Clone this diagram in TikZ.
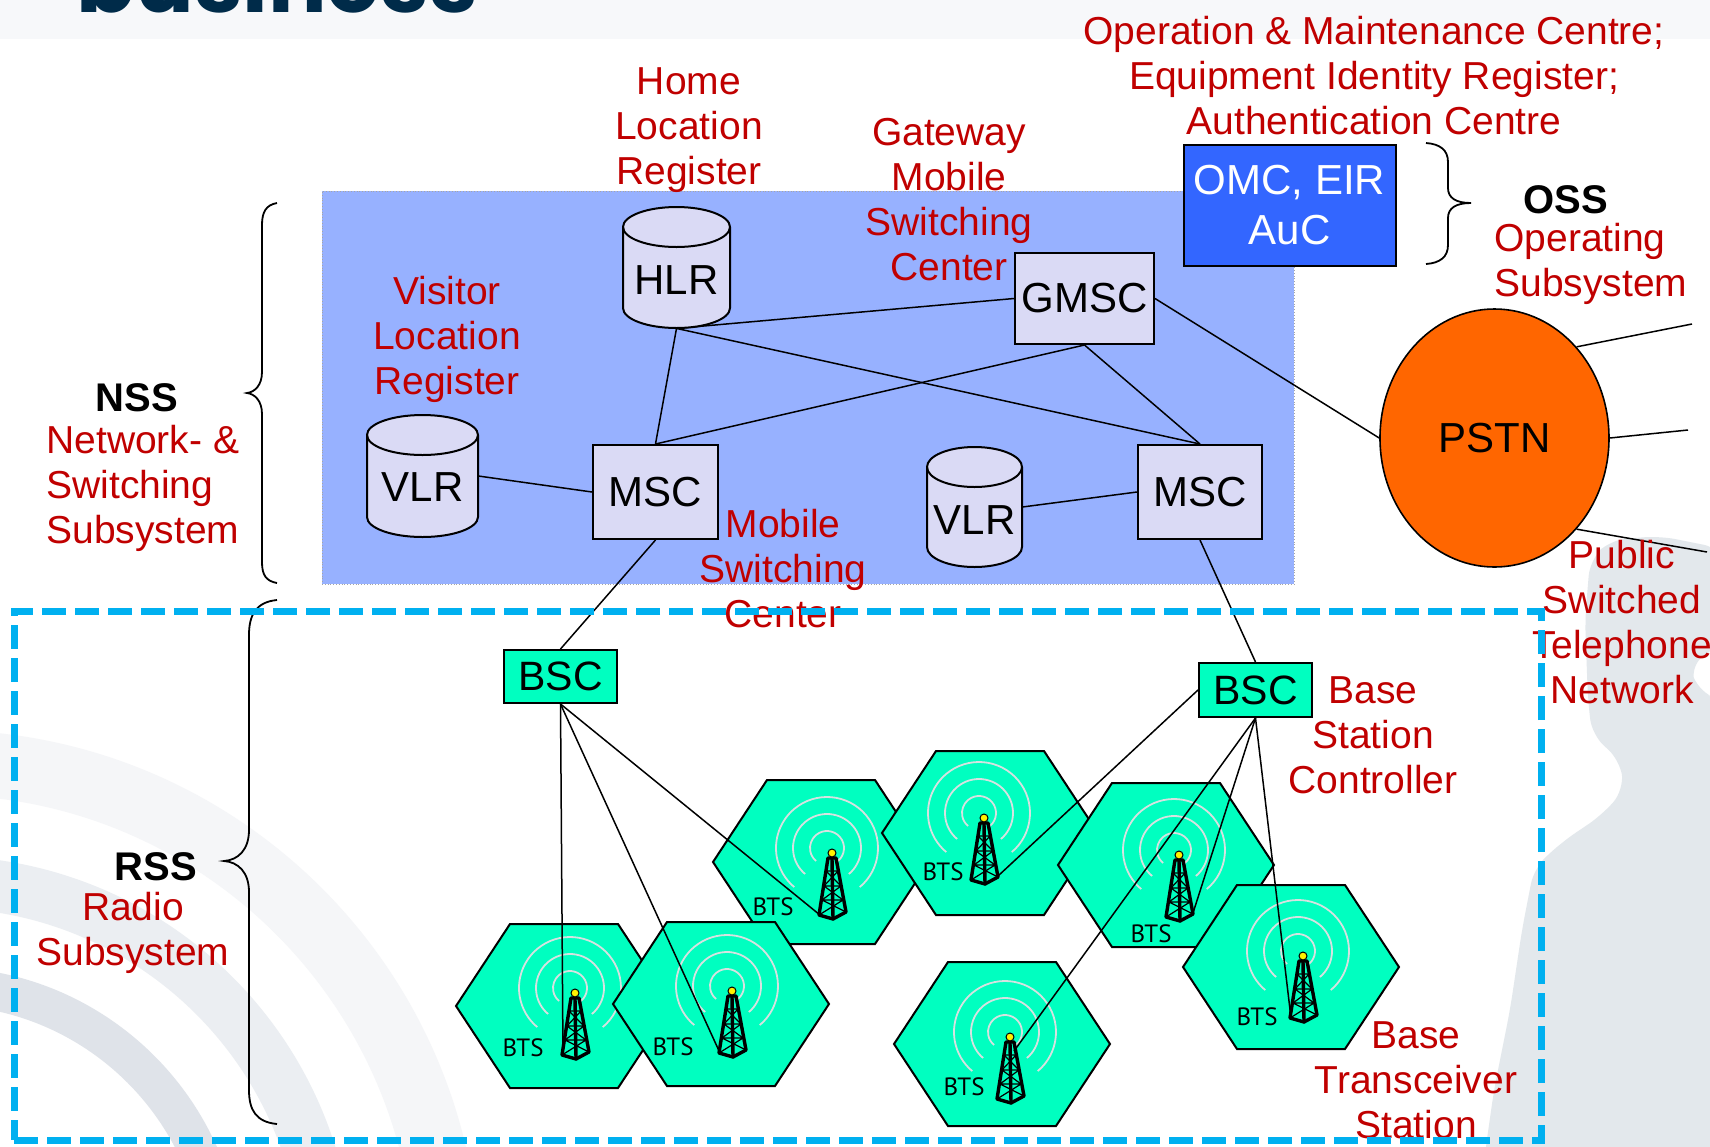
\documentclass[tikz,border=0pt]{standalone}
\usepackage{fontspec}
\setmainfont{Liberation Sans}
\newfontfamily\notefont{Liberation Sans}
\newfontfamily\cellfont{PT Sans}
\newfontfamily\brandfont{Poppins}
\usetikzlibrary{shapes.geometric}
\pgfdeclarelayer{back}
\pgfdeclarelayer{links}
\pgfdeclarelayer{front}
\pgfsetlayers{back,links,main,front}

\definecolor{nssblue}{RGB}{151,177,255}
\definecolor{boxfill}{RGB}{218,218,245}
\definecolor{omcblue}{RGB}{51,102,255}
\definecolor{pstnorange}{RGB}{255,102,0}
\definecolor{aqua}{RGB}{0,255,192}
\definecolor{notered}{RGB}{192,0,0}
\definecolor{rssdash}{RGB}{0,176,240}
\definecolor{wave}{RGB}{214,226,224}
\definecolor{navy}{RGB}{0,43,73}
\definecolor{topband}{RGB}{247,248,250}
\definecolor{markA}{RGB}{245,246,248}
\definecolor{markB}{RGB}{235,238,242}
\definecolor{markC}{RGB}{223,227,233}
\definecolor{figuregrey}{RGB}{227,232,236}

\tikzset{
  unitbox/.style={draw, line width=1pt, fill=boxfill, inner sep=0pt,
    font=\fontsize{21}{25}\selectfont},
  ctrlbox/.style={draw, line width=1pt, fill=aqua, inner sep=0pt,
    font=\fontsize{20.5}{25}\selectfont},
  note/.style={text=notered, align=center, inner sep=0pt,
    font=\notefont\fontsize{19.5}{22.5}\selectfont},
  subsys/.style={inner sep=0pt, font=\bfseries\fontsize{20}{24}\selectfont},
  link/.style={line width=0.75pt},
  bracepath/.style={line width=0.9pt},
  hexcell/.style={draw, line width=1pt, fill=aqua, line join=miter},
  radiowave/.style={draw=wave, line width=0.9pt},
  mastleg/.style={line width=1.7pt, line join=round, line cap=round},
  mastbar/.style={line width=0.6pt},
  celltext/.style={inner sep=0pt, font=\cellfont\fontsize{12.5}{14}\selectfont},
  rssframe/.style={draw=rssdash, line width=3.5pt, dash pattern=on 12pt off 4.5pt},
}

% database cylinder: name, x left, x right, y top, y bottom, y of text, text
\newcommand{\dbcyl}[7]{%
  \pgfmathsetmacro\cylrx{(#3-#2)/4}%
  \pgfmathsetmacro\cylw{(#3-#2)/2}%
  \pgfmathsetmacro\cylh{(#5-#4)/2}%
  \filldraw[fill=boxfill, line width=1pt]
    (#2,#4+20) -- (#2,#5-20)
    arc[start angle=180, end angle=360, x radius=\cylrx pt, y radius=10pt]
    -- (#3,#4+20)
    arc[start angle=0, end angle=180, x radius=\cylrx pt, y radius=10pt] -- cycle;
  \draw[line width=1pt] (#2,#4+20)
    arc[start angle=180, end angle=360, x radius=\cylrx pt, y radius=10pt];
  \node[inner sep=0pt, minimum width=\cylw pt, minimum height=\cylh pt]
    (#1) at ({(#2+#3)/2},{(#4+#5)/2}) {};
  \node[inner sep=0pt, font=\fontsize{21}{25}\selectfont]
    (#1-txt) at ({(#2+#3)/2},#6) {#7};
}

% radio cell: name, centre x, centre y, mast offset x, y, label offset x, y
\newcommand{\btscell}[7]{%
  \begin{scope}[shift={(#2,#3)}]
    \draw[hexcell] (-108,0) -- (-54,-82) -- (54,-82) -- (108,0)
      -- (54,82) -- (-54,82) -- cycle;
    \node[celltext] (#1-lab) at (#6,#7) {BTS};
    \begin{scope}[shift={(#4,#5)}]
      \begin{scope}[shift={(-5,-5)}]
        \foreach \r in {8.5,17,25.5}
          \draw[radiowave] (-50:\r pt) arc[start angle=-50, end angle=230, radius=\r pt];
      \end{scope}
      \draw[mastleg] (-4,5) -- (-13,62) -- (1,66) -- (14,59) -- (4,5) -- cycle;
      \draw[mastleg] (0,5) -- (1,66);
      \draw[mastbar] (-6,18) -- (9,33) (6,18) -- (-8,33)
        (-8,33) -- (11,47) (9,33) -- (-10,47)
        (-10,47) -- (14,59) (11,47) -- (-13,62)
        (-6,18) -- (6,18) (-8,33) -- (9,33) (-10,47) -- (11,47);
      \filldraw[fill=yellow, line width=0.5pt] (0,0) circle[radius=2pt];
      \coordinate (#1-bl) at (-12,62);
      \coordinate (#1-br) at (14,58);
      \coordinate (#1-up) at (4,14);
    \end{scope}
  \end{scope}
}

\begin{document}
\begin{tikzpicture}[x=0.5pt,y=-0.5pt]
\useasboundingbox (0,0) rectangle (1710,1147);

\begin{pgfonlayer}{back}
  \fill[white] (0,0) rectangle (1710,1147);
  \begin{scope}
    \clip (0,0) rectangle (1710,1147);
    % faint arcs in the lower left corner
    \fill[markA, even odd rule] (-60,1270) circle[radius=270pt] (-60,1270) circle[radius=237.5pt];
    \fill[markB, even odd rule] (-60,1270) circle[radius=207pt] (-60,1270) circle[radius=181pt];
    \fill[markC, even odd rule] (-60,1270) circle[radius=151.5pt] (-60,1270) circle[radius=132.5pt];
    % head-and-shoulders outline on the right
    \fill[figuregrey, rounded corners=8pt]
      (1720,548) -- (1660,536) -- (1610,540) -- (1590,560) -- (1585,620)
      -- (1588,700) -- (1592,735) -- (1620,760) -- (1624,790) -- (1602,815)
      -- (1562,842) -- (1534,868) -- (1522,930) -- (1510,1010) -- (1494,1090)
      -- (1484,1160) -- (1720,1160) -- (1720,700) -- (1697,690) -- (1690,665)
      -- (1720,645) -- cycle;
    % page header strip
    \fill[topband] (0,0) rectangle (1710,39);
    \node[anchor=base west, inner sep=0pt, text=navy,
      font=\brandfont\bfseries\fontsize{43.5}{44}\selectfont] (brand) at (76,12) {business};
  \end{scope}
  % network and switching subsystem area
  \node[fill=nssblue, draw=gray!70, densely dotted, line width=0.4pt,
    minimum width=486pt, minimum height=196.5pt, inner sep=0pt] (nss) at (808,387.5) {};
  % radio cells
  \btscell{h3}{821}{862}{11}{-9}{-48}{45}
  \btscell{h4}{990}{833}{-6}{-15}{-47}{39}
  \btscell{h5}{1166}{865}{13}{-10}{-15}{69}
  \btscell{h6}{1291}{967}{12}{-11}{-34}{50}
  \btscell{h7}{1002}{1044}{8}{-7}{-38}{43}
  \btscell{h1}{564}{1006}{11}{-13}{-41}{42}
  \btscell{h2}{721}{1004}{11}{-13}{-48}{43}
\end{pgfonlayer}

% network elements
\dbcyl{hlr}{623}{730}{207}{328}{280}{HLR}
\dbcyl{vlrA}{367}{478}{415}{537}{487}{VLR}
\dbcyl{vlrB}{927}{1022}{447}{567}{520}{VLR}
\node[unitbox, minimum width=69.5pt, minimum height=45.5pt] (gmsc) at (1084.5,298.5) {GMSC};
\node[unitbox, minimum width=62.5pt, minimum height=47pt] (mscA) at (655.5,492) {MSC};
\node[unitbox, minimum width=62pt, minimum height=47pt] (mscB) at (1200,492) {MSC};
\node[draw, line width=1pt, fill=omcblue, text=white, align=center, inner sep=0pt,
  minimum width=106pt, minimum height=60.5pt,
  font=\fontsize{21}{25}\selectfont] (omc) at (1289.5,205) {OMC, EIR\\AuC};
\node[ellipse, draw, line width=0.8pt, fill=pstnorange, inner sep=0pt,
  minimum width=114.5pt, minimum height=129pt,
  font=\fontsize{21}{25}\selectfont] (pstn) at (1494.5,438) {PSTN};
\node[ctrlbox, minimum width=56.5pt, minimum height=26.5pt] (bscA) at (560.5,676.5) {BSC};
\node[ctrlbox, minimum width=56.5pt, minimum height=27pt] (bscB) at (1255.5,690) {BSC};

\coordinate (ext1) at (1692,324);
\coordinate (ext2) at (1688,430);
\coordinate (ext3) at (1707,552);

\begin{pgfonlayer}{links}
  \draw[link] (hlr.south) -- (gmsc.west);
  \draw[link] (hlr.south) -- (mscA.north);
  \draw[link] (hlr.south) -- (mscB.north);
  \draw[link] (gmsc.south) -- (mscA.north);
  \draw[link] (gmsc.south) -- (mscB.north);
  \draw[link] (gmsc.east) -- (pstn.west);
  \draw[link] (vlrA.east) -- (mscA.west);
  \draw[link] (vlrB.east) -- (mscB.west);
  \draw[link] (mscA.south) -- (bscA.north);
  \draw[link] (mscB.south) -- (bscB.north);
  \draw[link] (bscA.south) -- (h1-bl);
  \draw[link] (bscA.south) -- (h2-bl);
  \draw[link] (bscA.south) -- (h3-bl);
  \draw[link] (bscB.west) -- (h4-br);
  \draw[link] (bscB.south) -- (h7-up);
  \draw[link] (bscB.south) -- (h5-br);
  \draw[link] (bscB.south) -- (h6-bl);
  \draw[link] (pstn.48) -- (ext1);
  \draw[link] (pstn.east) -- (ext2);
  \draw[link] (pstn.-48) -- (ext3);
\end{pgfonlayer}

% braces
\draw[bracepath] (277,203) .. controls (266,205) and (262,212) .. (262,225)
  -- (262,372) .. controls (262,385) and (255,392) .. (247,393)
  .. controls (255,394) and (262,401) .. (262,414)
  -- (262,562) .. controls (262,575) and (266,581) .. (277,583);
\draw[bracepath] (277,600) .. controls (256,602) and (249,615) .. (249,635)
  -- (249,830) .. controls (249,850) and (238,860) .. (224,861)
  .. controls (238,862) and (249,872) .. (249,892)
  -- (249,1090) .. controls (249,1110) and (256,1122) .. (277,1124);
\draw[bracepath] (1426,143) .. controls (1440,144) and (1448,150) .. (1448,162)
  -- (1448,188) .. controls (1448,198) and (1456,203) .. (1471,203)
  .. controls (1456,203) and (1448,208) .. (1448,218)
  -- (1448,245) .. controls (1448,257) and (1440,263) .. (1426,264);

% subsystem names
\node[subsys] (osslabel) at (1566,200) {OSS};
\node[subsys] (nsslabel) at (137,398) {NSS};
\node[subsys] (rsslabel) at (156,867) {RSS};

% explanations
\node[note] (hlrnote) at (689,130) {Home\\Location\\Register};
\node[note] (gmscnote) at (949,200) {Gateway\\Mobile\\Switching\\Center};
\node[note] (omcnote) at (1374,76) {Operation \& Maintenance Centre;\\Equipment Identity Register;\\Authentication Centre};
\node[note] (vlrnote) at (447,339) {Visitor\\Location\\Register};
\node[note] (mscnote) at (783,569) {Mobile\\Switching\\Center};
\node[note] (pstnnote) at (1622,622) {Public\\Switched\\Telephone\\Network};
\node[note] (bscnote) at (1373,735) {Base\\Station\\Controller};
\node[note] (btsnote) at (1416,1080) {Base\\Transceiver\\Station};
\node[note, align=left, anchor=west] (ossnote) at (1494,264) {Operating\\Subsystem};
\node[note, align=left, anchor=west] (nssnote) at (46,488) {Network- \&\\Switching\\Subsystem};
\node[note] (rssnote) at (133,933) {Radio\\Subsystem};

\begin{pgfonlayer}{front}
  \node[rssframe, minimum width=763.5pt, minimum height=264.5pt, inner sep=0pt]
    (rss) at (777.5,875.5) {};
\end{pgfonlayer}
\end{tikzpicture}
\end{document}
